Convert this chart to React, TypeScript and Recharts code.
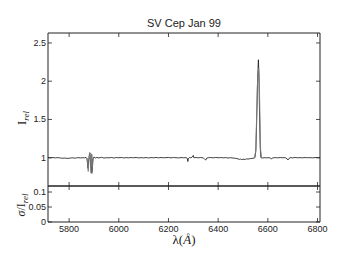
import React from 'react';
import { LineChart, Line, XAxis, YAxis } from 'recharts';

// main spectrum (black)
const wavelengths = [
  5715, 5725, 5735, 5745, 5755, 5765, 5775, 5785, 5795, 5805, 5815, 5825, 5835, 5845, 5855,
  5862, 5868, 5872, 5876, 5879, 5882, 5884, 5886, 5889, 5891, 5893, 5896, 5900, 5905, 5912,
  5920, 5930, 5940, 5950, 5960, 5970, 5980, 5990, 6000, 6010, 6020, 6030, 6040, 6050, 6060,
  6070, 6080, 6090, 6100, 6110, 6120, 6130, 6140, 6150, 6160, 6170, 6180, 6190, 6200, 6210,
  6220, 6230, 6240, 6250, 6260, 6270, 6276, 6278, 6280, 6285, 6290, 6296, 6300, 6302, 6310,
  6320, 6330, 6340, 6347, 6350, 6354, 6360, 6370, 6380, 6390, 6400, 6410, 6420, 6430, 6440,
  6450, 6460, 6470, 6480, 6485, 6490, 6495, 6500, 6510, 6515, 6520, 6530, 6540, 6548, 6552,
  6556, 6559, 6562, 6564, 6566, 6569, 6572, 6578, 6585, 6595, 6605, 6613, 6616, 6620, 6630,
  6640, 6650, 6660, 6670, 6678, 6681, 6685, 6690, 6700, 6710, 6720, 6730, 6740, 6750, 6760,
  6770, 6780, 6790, 6800, 6810,
];
const fluxMain = [
  1.0, 0.998, 1.002, 0.997, 1.001, 0.996, 0.993, 0.995, 0.99, 0.996, 0.998, 0.994, 1.001, 0.997, 1.0,
  0.998, 1.003, 0.99, 0.86, 0.97, 1.05, 1.06, 0.95, 0.8, 1.04, 0.82, 0.98, 1.01, 0.995, 1.003,
  0.997, 1.004, 0.996, 1.0, 0.998, 1.003, 0.996, 1.002, 0.999, 1.003, 0.997, 1.001, 0.998, 1.002, 0.999,
  1.003, 0.997, 1.001, 0.998, 1.002, 0.997, 1.001, 0.999, 1.003, 0.998, 1.002, 0.999, 1.001, 1.003, 0.998,
  1.002, 1.0, 0.997, 1.002, 0.999, 1.001, 0.99, 0.95, 0.99, 1.002, 0.998, 1.01, 1.03, 1.0, 1.002,
  0.999, 1.002, 0.998, 0.975, 0.97, 0.995, 1.0, 1.002, 0.998, 1.003, 0.999, 1.002, 0.998, 1.001, 0.996,
  1.0, 0.995, 0.992, 0.985, 0.978, 0.982, 0.975, 0.98, 0.978, 0.985, 0.982, 0.988, 0.992, 1.0, 1.1,
  1.6, 2.05, 2.28, 2.1, 1.7, 1.15, 1.0, 0.995, 1.0, 0.998, 1.001, 0.99, 0.985, 0.998, 1.001,
  0.998, 1.002, 0.999, 1.001, 0.985, 0.97, 0.99, 1.001, 0.998, 1.002, 0.999, 1.001, 0.998, 1.002, 0.999,
  1.001, 0.998, 1.002, 1.0, 0.999,
];

// second exposure (grey), only where it separates from the black one
const grayWavelengths = [
  5870, 5874, 5877, 5880, 5883, 5885, 5888, 5890, 5892, 5895, 5899, null,
  6546, 6551, 6555, 6558, 6561, 6563, 6565, 6568, 6571, 6575,
];
const fluxGray = [
  1.0, 0.95, 0.82, 0.98, 1.07, 1.02, 0.88, 1.05, 0.79, 0.96, 1.0, null,
  1.0, 1.08, 1.55, 1.95, 2.1, 2.17, 2.05, 1.6, 1.1, 1.0,
];

const xTicks = [5800, 6000, 6200, 6400, 6600, 6800];
const topYTicks = [1, 1.5, 2, 2.5];
const bottomYTicks = [0, 0.05, 0.1];

const spectrum = wavelengths.map((w, i) => ({ w, f: fluxMain[i] }));
const graySpectrum = grayWavelengths.map((w, i) => ({ w, f: fluxGray[i] }));

const W = 341;
const H = 256;
const LEFT = 48;
const RIGHT = 320;
const TOP = 33;
const MID = 186;
const BOTTOM = 222;
const INK = '#222';
const TL = 4;
const sans = '"Liberation Sans", Arial, sans-serif';
const serif = '"Liberation Serif", "Times New Roman", serif';
const xDomain: [number, number] = [5715, 6810];

const BottomTick = ({ x, y, payload, label }: any) => (
  <g>
    <line x1={x} x2={x} y1={y} y2={y - TL} stroke={INK} strokeWidth={0.8} />
    {label && (
      <text x={x} y={y + 10} textAnchor="middle" fontSize={9} fontFamily={sans} fill={INK}>
        {payload.value}
      </text>
    )}
  </g>
);

const TopTick = ({ x, y }: any) => (
  <line x1={x} x2={x} y1={y} y2={y + TL} stroke={INK} strokeWidth={0.8} />
);

const LeftTick = ({ x, y, payload }: any) => (
  <g>
    <line x1={x} x2={x + TL} y1={y} y2={y} stroke={INK} strokeWidth={0.8} />
    <text x={x - 2} y={y + 3} textAnchor="end" fontSize={9} fontFamily={sans} fill={INK}>
      {payload.value}
    </text>
  </g>
);

const RightTick = ({ x, y }: any) => (
  <line x1={x} x2={x - TL} y1={y} y2={y} stroke={INK} strokeWidth={0.8} />
);

const axisLine = { stroke: INK, strokeWidth: 1 };

// axes take 1px each, margins are reduced by that much
const Frame = ({ yDomain, yTicks, label }: any) => [
  <XAxis key="xb" dataKey="w" type="number" domain={xDomain} ticks={xTicks} allowDataOverflow
    height={1} tickSize={0} tickMargin={0} interval={0} axisLine={axisLine}
    tick={(p: any) => <BottomTick {...p} label={label} />} />,
  <XAxis key="xt" xAxisId="top" orientation="top" dataKey="w" type="number" domain={xDomain} ticks={xTicks}
    allowDataOverflow height={1} tickSize={0} tickMargin={0} interval={0} axisLine={axisLine}
    tick={(p: any) => <TopTick {...p} />} />,
  <YAxis key="yl" type="number" domain={yDomain} ticks={yTicks} allowDataOverflow width={1}
    tickSize={0} tickMargin={0} interval={0} axisLine={axisLine}
    tick={(p: any) => <LeftTick {...p} />} />,
  <YAxis key="yr" yAxisId="right" orientation="right" type="number" domain={yDomain} ticks={yTicks}
    allowDataOverflow width={1} tickSize={0} tickMargin={0} interval={0} axisLine={axisLine}
    tick={(p: any) => <RightTick {...p} />} />,
];

const App = () => {
  return (
    <div style={{ position: 'absolute', left: 0, top: 0, width: W, height: H, background: '#fff' }}>
      <div style={{ position: 'absolute', left: 0, top: 0 }}>
        <LineChart width={W} height={H} data={spectrum}
          margin={{ top: TOP - 1, right: W - RIGHT - 1, bottom: H - MID - 1, left: LEFT - 1 }}>
          {Frame({ yDomain: [0.63, 2.63], yTicks: topYTicks, label: false })}
          <Line dataKey="f" stroke="#111" strokeWidth={0.8} dot={false} isAnimationActive={false} />
          <Line data={graySpectrum} dataKey="f" stroke="#7a7a7a" strokeWidth={0.9} dot={false}
            isAnimationActive={false} connectNulls={false} />
        </LineChart>
      </div>
      <div style={{ position: 'absolute', left: 0, top: 0 }}>
        <LineChart width={W} height={H} data={spectrum}
          margin={{ top: MID - 1, right: W - RIGHT - 1, bottom: H - BOTTOM - 1, left: LEFT - 1 }}>
          {Frame({ yDomain: [0, 0.12], yTicks: bottomYTicks, label: true })}
        </LineChart>
      </div>

      <div style={{ position: 'absolute', left: LEFT, width: RIGHT - LEFT, top: 16, textAlign: 'center',
        fontFamily: sans, fontSize: 11, lineHeight: '14px', color: INK }}>
        SV Cep Jan 99
      </div>
      <div style={{ position: 'absolute', left: 22, top: 118, transform: 'translate(-50%, -50%) rotate(-90deg)',
        whiteSpace: 'nowrap', fontFamily: serif, fontSize: 13, lineHeight: '14px', color: INK }}>
        I<span style={{ fontSize: 9, fontStyle: 'italic', position: 'relative', top: 3 }}>rel</span>
      </div>
      <div style={{ position: 'absolute', left: 21, top: 205, transform: 'translate(-50%, -50%) rotate(-90deg)',
        whiteSpace: 'nowrap', fontFamily: serif, fontSize: 12, lineHeight: '14px', color: INK }}>
        <i>σ</i>/I<span style={{ fontSize: 9, fontStyle: 'italic', position: 'relative', top: 3 }}>rel</span>
      </div>
      <div style={{ position: 'absolute', left: LEFT, width: RIGHT - LEFT, top: 233, textAlign: 'center',
        fontFamily: serif, fontSize: 13, lineHeight: '14px', color: INK }}>
        λ(<i>Å</i>)
      </div>
    </div>
  );
};

export default App;
